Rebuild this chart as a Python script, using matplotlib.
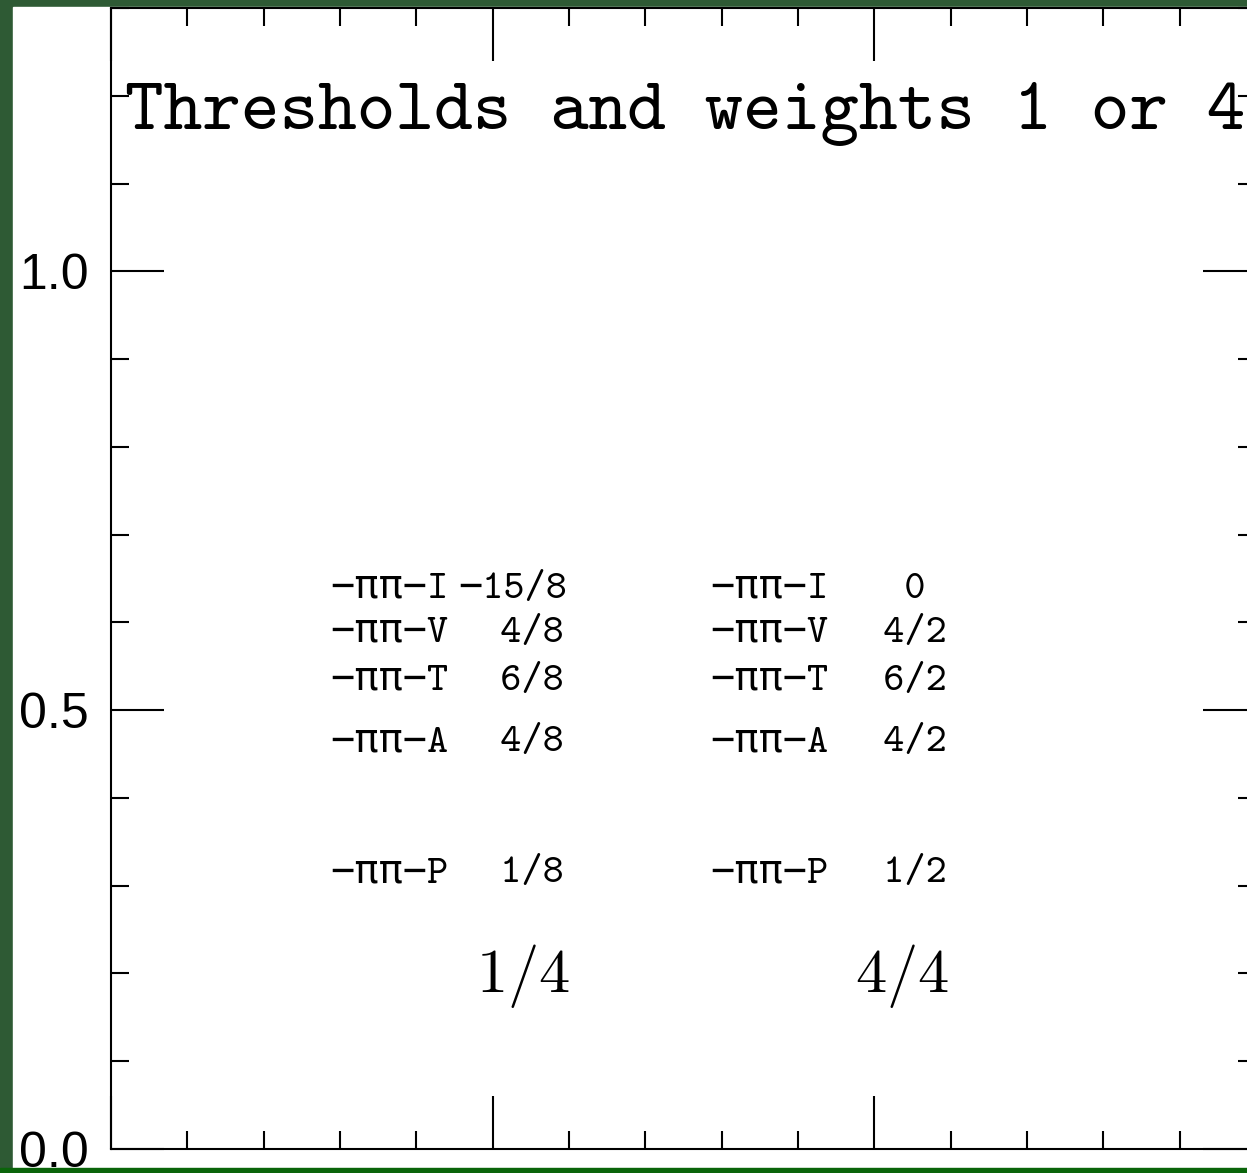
import os
import matplotlib
matplotlib.use("Agg")
import matplotlib.pyplot as plt
from matplotlib import font_manager
from matplotlib.patches import Rectangle
from matplotlib.ticker import MultipleLocator

# table contents
channels = ["I", "V", "T", "A", "P"]
left_vals = ["−15/8", "4/8", "6/8", "4/8", "1/8"]
right_vals = ["0", "4/2", "6/2", "4/2", "1/2"]
totals = ["1/4", "4/4"]
title = "Thresholds and weights 1 or 4"
yticks = [0.0, 0.5, 1.0]
ytick_labels = ["0.0", "0.5", "1.0"]

# layout (data coords)
row_y = [0.628, 0.578, 0.523, 0.453, 0.304]
col_label_x = [0.287, 0.785]
col_value_x = [0.4546, 0.9564]
total_x = [0.540, 1.036]
total_y = 0.179

# typewriter serif shipped with matplotlib
tt_path = os.path.join(matplotlib.get_data_path(), "fonts", "ttf", "cmtt10.ttf")
font_manager.fontManager.addfont(tt_path)
tt_name = font_manager.FontProperties(fname=tt_path).get_name()
mono = [tt_name, "DejaVu Sans Mono"]

fig = plt.figure(figsize=(12.47, 11.73), dpi=100, facecolor="#2e5a34")
fig.patches.append(Rectangle((13 / 1247, 5 / 1173), 1, 1161 / 1173,
                             transform=fig.transFigure, color="white", zorder=-2))
fig.patches.append(Rectangle((0, 0), 1, 5 / 1173, transform=fig.transFigure,
                             color="#0a640a", zorder=-2))

ax = fig.add_axes([111 / 1247, 24 / 1173, 1145 / 1247, 1141 / 1173])
ax.set_facecolor("white")
ax.set_xlim(0, 1.5)
ax.set_ylim(0, 1.3)
ax.xaxis.set_major_locator(MultipleLocator(0.5))
ax.xaxis.set_minor_locator(MultipleLocator(0.1))
ax.set_yticks(yticks)
ax.set_yticklabels(ytick_labels, family="Liberation Sans", fontsize=36)
ax.yaxis.set_minor_locator(MultipleLocator(0.1))
ax.tick_params(which="both", direction="in", top=True, right=True,
               width=1.5, color="black", labelbottom=False)
ax.tick_params(which="major", length=38)
ax.tick_params(which="minor", length=13)
ax.tick_params(axis="y", pad=16)
for s in ax.spines.values():
    s.set_linewidth(1.5)

ax.text(0.018, 1.162, title, family=mono, fontsize=53, va="baseline", ha="left")


def value_str(v):
    # line values up on the slash, monospace
    if "/" in v:
        num, den = v.split("/")
        return num.rjust(3) + "/" + den
    return "   " + v


for j, vals in enumerate([left_vals, right_vals]):
    for ch, v, y in zip(channels, vals, row_y):
        ax.text(col_label_x[j], y, "−ππ−" + ch, family=mono, fontsize=29,
                va="baseline", ha="left")
        ax.text(col_value_x[j], y, value_str(v), family=mono, fontsize=29,
                va="baseline", ha="left")
    ax.text(total_x[j], total_y, "$" + totals[j] + "$", math_fontfamily="cm",
            fontsize=45, va="baseline", ha="center")

fig.savefig("out.png", dpi=100, facecolor=fig.get_facecolor())
